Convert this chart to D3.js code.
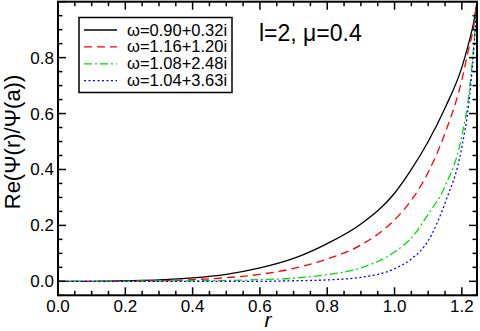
<!DOCTYPE html>
<html>
<head>
<meta charset="utf-8">
<script src="https://cdn.jsdelivr.net/npm/d3@7.9.0/dist/d3.min.js"></script>
<style>
  body { margin: 0; background: #fff; }
  svg { display: block; font-family: "Liberation Sans", Arial, sans-serif; }
</style>
</head>
<body>
<svg width="480" height="331"></svg>
<script>
// r grid shared by all four curves
const rValues = [0, 0.1, 0.2, 0.3, 0.4, 0.5, 0.6, 0.7, 0.8, 0.9, 1.0, 1.05, 1.1, 1.15, 1.2, 1.22, 1.235, 1.245];

// Re(Psi(r)/Psi(a))
const blackValues = [0, 0.000, 0.002, 0.005, 0.012, 0.025, 0.048, 0.082, 0.135, 0.205, 0.315, 0.40, 0.50, 0.62, 0.765, 0.85, 0.925, 1.0];
const redValues   = [0, 0.000, 0.001, 0.002, 0.006, 0.013, 0.025, 0.046, 0.080, 0.130, 0.220, 0.29, 0.39, 0.53, 0.72, 0.83, 0.91, 1.0];
const greenValues = [0, 0.000, 0.000, 0.001, 0.002, 0.003, 0.006, 0.011, 0.024, 0.048, 0.105, 0.155, 0.24, 0.34, 0.52, 0.66, 0.84, 1.0];
const blueValues  = [0, 0.000, 0.000, 0.000, 0.000, 0.000, 0.000, 0.002, 0.005, 0.014, 0.045, 0.08, 0.145, 0.28, 0.48, 0.63, 0.82, 1.0];

const seriesLabels = ['ω=0.90+0.32i', 'ω=1.16+1.20i', 'ω=1.08+2.48i', 'ω=1.04+3.63i'];
const seriesColors = ['#000000', '#ff0000', '#00dd00', '#0000ff'];
const seriesDashes = [null, '8,5', '8,3,2,3', '2,2.5'];
const seriesValues = [blackValues, redValues, greenValues, blueValues];

const xTicks = [0, 0.2, 0.4, 0.6, 0.8, 1.0, 1.2];
const yTicks = [0, 0.2, 0.4, 0.6, 0.8];

const svg = d3.select('svg');
const plotLeft = 58, plotRight = 477, plotTop = 1.7, plotBottom = 295.3;

const x = d3.scaleLinear().domain([0, 1.245]).range([plotLeft, plotRight]);
const y = d3.scaleLinear().domain([-0.05, 1.0]).range([plotBottom, plotTop]);

// clip so curves stay inside the frame
svg.append('clipPath').attr('id', 'clip')
  .append('rect').attr('x', plotLeft).attr('y', plotTop)
  .attr('width', plotRight - plotLeft).attr('height', plotBottom - plotTop);

const line = d3.line()
  .x((d) => x(d[0]))
  .y((d) => y(d[1]))
  .curve(d3.curveMonotoneX);

seriesValues.forEach((vals, i) => {
  const pts = rValues.map((r, j) => [r, vals[j]]);
  svg.append('path')
    .attr('clip-path', 'url(#clip)')
    .attr('d', line(pts))
    .attr('fill', 'none')
    .attr('stroke', seriesColors[i])
    .attr('stroke-width', 1.3)
    .attr('stroke-dasharray', seriesDashes[i]);
});

// ticks: inward on all four sides
const xMinor = d3.range(0, 1.245, 0.05);
const yMinor = d3.range(-0.05, 1.0001, 0.05);
const tickG = svg.append('g').attr('stroke', '#000').attr('stroke-width', 1.5);

xMinor.forEach((v) => {
  const major = xTicks.some((t) => Math.abs(t - v) < 1e-6);
  const len = major ? 8 : 4.5;
  tickG.append('line').attr('x1', x(v)).attr('x2', x(v)).attr('y1', plotBottom).attr('y2', plotBottom - len);
  tickG.append('line').attr('x1', x(v)).attr('x2', x(v)).attr('y1', plotTop).attr('y2', plotTop + len);
});
yMinor.forEach((v) => {
  const major = yTicks.concat([1.0]).some((t) => Math.abs(t - v) < 1e-6);
  const len = major ? 8 : 4.5;
  tickG.append('line').attr('y1', y(v)).attr('y2', y(v)).attr('x1', plotLeft).attr('x2', plotLeft + len);
  tickG.append('line').attr('y1', y(v)).attr('y2', y(v)).attr('x1', plotRight).attr('x2', plotRight - len);
});

// frame
svg.append('rect')
  .attr('x', plotLeft).attr('y', plotTop)
  .attr('width', plotRight - plotLeft).attr('height', plotBottom - plotTop)
  .attr('fill', 'none').attr('stroke', '#000').attr('stroke-width', 2);

// tick labels
svg.append('g').selectAll('text').data(xTicks).join('text')
  .attr('x', (d) => x(d)).attr('y', 312)
  .attr('text-anchor', 'middle').attr('font-size', 17)
  .text((d) => d.toFixed(1));

svg.append('g').selectAll('text').data(yTicks).join('text')
  .attr('x', 54).attr('y', (d) => y(d) + 6)
  .attr('text-anchor', 'end').attr('font-size', 17)
  .text((d) => d.toFixed(1));

// axis titles
svg.append('text')
  .attr('x', 268).attr('y', 327)
  .attr('text-anchor', 'middle').attr('font-size', 21).attr('font-style', 'italic')
  .text('r');

svg.append('text')
  .attr('transform', 'translate(20,142) rotate(-90)')
  .attr('text-anchor', 'middle').attr('font-size', 22)
  .text('Re(Ψ(r)/Ψ(a))');

svg.append('text')
  .attr('x', 259).attr('y', 41)
  .attr('font-size', 23)
  .text('l=2, μ=0.4');

// legend
const legend = svg.append('g');
legend.append('rect')
  .attr('x', 79).attr('y', 17.5).attr('width', 153).attr('height', 75)
  .attr('fill', '#fff').attr('stroke', '#000').attr('stroke-width', 1.5);

seriesLabels.forEach((label, i) => {
  const ly = 30 + i * 16.9;
  legend.append('line')
    .attr('x1', 84).attr('x2', 117).attr('y1', ly).attr('y2', ly)
    .attr('stroke', seriesColors[i]).attr('stroke-width', 1.3)
    .attr('stroke-dasharray', seriesDashes[i]);
  legend.append('text')
    .attr('x', 127).attr('y', ly + 5.5)
    .attr('font-size', 16.5)
    .text(label);
});
</script>
</body>
</html>
